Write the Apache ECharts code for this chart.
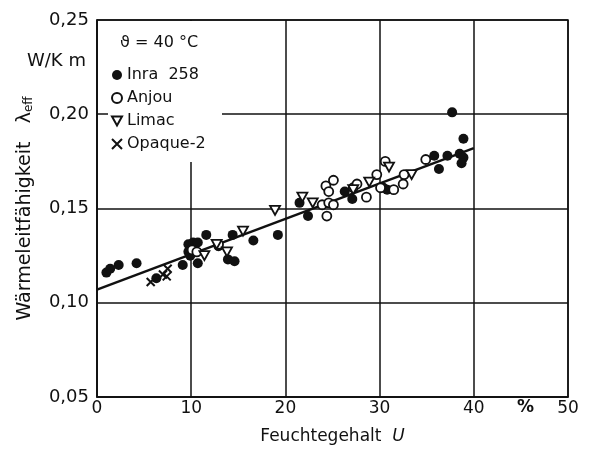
<!DOCTYPE html>
<html><head><meta charset="utf-8">
<script src="https://cdn.jsdelivr.net/npm/echarts@6/dist/echarts.min.js"></script>
<style>html,body{margin:0;padding:0;background:#fff}#c{width:591px;height:450px}</style>
</head><body><div id="c"></div>
<script>
// Feuchtegehalt U (%) , Wärmeleitfähigkeit λ_eff (W/K m)
const inra258 = [[1.0,0.116],[1.4,0.118],[2.3,0.120],[4.2,0.121],[6.3,0.113],[9.1,0.120],
  [9.7,0.131],[10.2,0.132],[10.7,0.132],[9.7,0.127],[9.9,0.125],[10.7,0.121],[11.6,0.136],
  [12.9,0.130],[13.9,0.123],[14.6,0.122],[14.4,0.136],[16.6,0.133],[19.2,0.136],
  [21.5,0.153],[22.4,0.146],[26.3,0.159],[27.1,0.155],[30.4,0.161],[30.8,0.160],
  [35.8,0.178],[36.3,0.171],[37.2,0.178],[37.7,0.201],[38.9,0.187],[38.5,0.179],[38.9,0.177],[38.7,0.174]];
const anjou = [[10.1,0.128],[10.6,0.127],[12.9,0.131],[23.9,0.152],[24.3,0.162],[25.1,0.165],[24.6,0.159],
  [24.4,0.146],[24.6,0.153],[25.1,0.152],[27.2,0.161],[27.6,0.163],[28.6,0.156],[29.7,0.168],
  [30.1,0.161],[30.6,0.175],[31.5,0.160],[32.5,0.163],[32.6,0.168],[34.9,0.176]];
const limac = [[11.4,0.125],[12.7,0.131],[13.8,0.127],[15.5,0.138],[18.9,0.149],[21.8,0.156],
  [22.9,0.153],[27.2,0.160],[28.9,0.164],[31.0,0.172],[33.4,0.168]];
const opaque2 = [[5.7,0.111],[7.0,0.115],[7.4,0.114],[7.5,0.118]];
const fitLine = [[0,0.107],[40,0.182]];
const yTicks = {min:0.05, max:0.25, step:0.05};
const xTicks = {min:0, max:50, step:10};

const FONT = 'DejaVu Sans';
const chart = echarts.init(document.getElementById('c'));
const triDown = 'path://M0,0 L10,0 L5,9 Z';
const cross = 'path://M0,0 L10,10 M10,0 L0,10';
chart.setOption({
  animation:false,
  backgroundColor:'#fff',
  grid:{left:97,right:23,top:20,bottom:52,show:true,borderColor:'#111',borderWidth:1.5},
  xAxis:{type:'value',min:xTicks.min,max:xTicks.max,interval:xTicks.step,
    axisLine:{lineStyle:{color:'#111',width:1.5}},axisTick:{show:false},
    splitLine:{lineStyle:{color:'#111',width:1.5}},
    axisLabel:{color:'#111',fontFamily:FONT,fontSize:17,margin:3},
    name:'Feuchtegehalt  {i|U}',nameLocation:'middle',nameGap:31,
    nameTextStyle:{color:'#111',fontFamily:FONT,fontSize:17,
      rich:{i:{fontStyle:'italic',fontFamily:FONT,fontSize:17,color:'#111'}}}},
  yAxis:{type:'value',min:yTicks.min,max:yTicks.max,interval:yTicks.step,
    axisLine:{lineStyle:{color:'#111',width:1.5}},axisTick:{show:false},
    splitLine:{lineStyle:{color:'#111',width:1.5}},
    axisLabel:{color:'#111',fontFamily:FONT,fontSize:18,margin:8,
      formatter:v=>v.toFixed(2).replace('.',',')},
    name:'Wärmeleitfähigkeit   λ{s|eff}',nameLocation:'middle',nameRotate:90,nameGap:62,
    nameTextStyle:{color:'#111',fontFamily:FONT,fontSize:19,
      rich:{s:{fontFamily:FONT,fontSize:12,color:'#111',verticalAlign:'bottom',padding:[8,0,0,0]}}}},
  legend:{orient:'vertical',left:106,top:62,itemGap:7,itemWidth:10,itemHeight:10,
    textStyle:{color:'#111',fontFamily:FONT,fontSize:16},
    data:[{name:'Inra  258',icon:'circle'},{name:'Anjou',icon:'circle'},
      {name:'Limac',icon:triDown},{name:'Opaque-2',icon:cross}]},
  graphic:[
    {type:'rect',shape:{x:108,y:21,width:114,height:141},style:{fill:'#fff'},z:1,silent:true},
    {type:'text',left:120,top:35,z:2,style:{text:'ϑ = 40 °C',font:'16px "DejaVu Sans"',fill:'#111'}},
    {type:'text',left:27,top:52,z:2,style:{text:'W/K m',font:'18px "DejaVu Sans"',fill:'#111'}},
    {type:'text',left:517,top:399,z:2,style:{text:'%',font:'bold 17px "DejaVu Sans"',fill:'#111'}}
  ],
  series:[
    {name:'fit',type:'line',data:fitLine,symbol:'none',lineStyle:{color:'#111',width:2.5},z:3,silent:true},
    {name:'Inra  258',type:'scatter',data:inra258,symbol:'circle',symbolSize:10,
      itemStyle:{color:'#111',opacity:1},z:4},
    {name:'Anjou',type:'scatter',data:anjou,symbol:'circle',symbolSize:9,
      itemStyle:{color:'#fff',borderColor:'#111',borderWidth:1.8,opacity:1},z:5},
    {name:'Limac',type:'scatter',data:limac,symbol:triDown,symbolSize:[10,9],
      itemStyle:{color:'#fff',borderColor:'#111',borderWidth:1.8,opacity:1},z:5},
    {name:'Opaque-2',type:'scatter',data:opaque2,symbol:cross,symbolSize:8,
      itemStyle:{color:'#111',borderColor:'#111',borderWidth:2,opacity:1},z:5}
  ]
});
</script></body></html>
